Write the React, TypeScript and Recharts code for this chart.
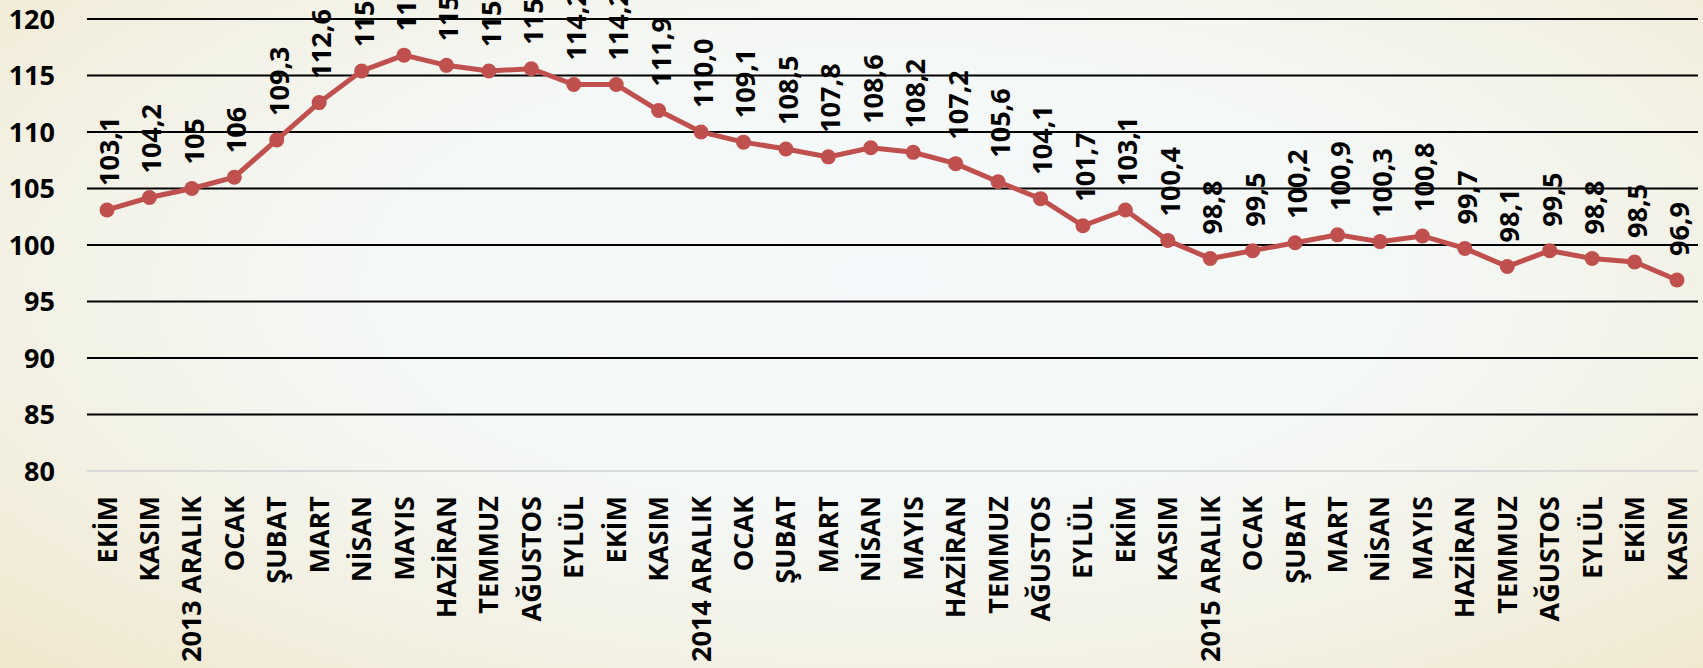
import React from "react";
import { LineChart, Line, XAxis, YAxis, CartesianGrid } from "recharts";

const months = [
  "EKİM", "KASIM", "2013 ARALIK", "OCAK", "ŞUBAT", "MART", "NİSAN", "MAYIS", "HAZİRAN", "TEMMUZ",
  "AĞUSTOS", "EYLÜL", "EKİM", "KASIM", "2014 ARALIK", "OCAK", "ŞUBAT", "MART", "NİSAN", "MAYIS",
  "HAZİRAN", "TEMMUZ", "AĞUSTOS", "EYLÜL", "EKİM", "KASIM", "2015 ARALIK", "OCAK", "ŞUBAT", "MART",
  "NİSAN", "MAYIS", "HAZİRAN", "TEMMUZ", "AĞUSTOS", "EYLÜL", "EKİM", "KASIM",
];

const values = [
  103.1, 104.2, 105, 106, 109.3, 112.6, 115.4, 116.8, 115.9, 115.4,
  115.6, 114.2, 114.2, 111.9, 110.0, 109.1, 108.5, 107.8, 108.6, 108.2,
  107.2, 105.6, 104.1, 101.7, 103.1, 100.4, 98.8, 99.5, 100.2, 100.9,
  100.3, 100.8, 99.7, 98.1, 99.5, 98.8, 98.5, 96.9,
];

const valueLabels = [
  "103,1", "104,2", "105", "106", "109,3", "112,6", "115,4", "116,8", "115,9", "115,4",
  "115,6", "114,2", "114,2", "111,9", "110,0", "109,1", "108,5", "107,8", "108,6", "108,2",
  "107,2", "105,6", "104,1", "101,7", "103,1", "100,4", "98,8", "99,5", "100,2", "100,9",
  "100,3", "100,8", "99,7", "98,1", "99,5", "98,8", "98,5", "96,9",
];

const yTicks = [80, 85, 90, 95, 100, 105, 110, 115, 120];
const gridValues = [85, 90, 95, 100, 105, 110, 115, 120];

const data = months.map((m, i) => ({ idx: i, month: m, value: values[i] }));

const FONT = '"Open Sans", "Noto Sans", sans-serif';
const RED = "#C0504D";

function MonthTick(props: any) {
  const { x, y, payload } = props;
  const bx = x + 9.5;
  const by = y + 23;
  return (
    <text
      x={bx}
      y={by}
      transform={`rotate(-90, ${bx}, ${by})`}
      textAnchor="end"
      fontFamily={FONT}
      fontWeight={700}
      fontSize={27}
      fill="#000"
    >
      {months[Number(payload.value)]}
    </text>
  );
}

// dot + rotated value label drawn together
function PointWithLabel(props: any) {
  const { cx, cy, index } = props;
  if (cx == null || cy == null) return null;
  const bx = cx + 12;
  const by = cy - 24;
  return (
    <g key={`pt-${index}`}>
      <circle cx={cx} cy={cy} r={7.5} fill={RED} stroke="none" />
      <text
        x={bx}
        y={by}
        transform={`rotate(-90, ${bx}, ${by})`}
        textAnchor="start"
        fontFamily={FONT}
        fontWeight={700}
        fontSize={27}
        fill="#000"
      >
        {valueLabels[index]}
      </text>
    </g>
  );
}

export default function App() {
  return (
    <div
      style={{
        position: "absolute",
        left: 0,
        top: 0,
        width: 1703,
        height: 668,
        background:
          "radial-gradient(ellipse 75% 85% at 52% 42%, #F5F9FB 0%, #F4F8F6 40%, #F3F0E2 72%, #F0E6CB 100%)",
      }}
    >
      <LineChart
        width={1703}
        height={668}
        data={data}
        margin={{ top: 19, right: 5, bottom: 0, left: 0 }}
      >
        <CartesianGrid
          vertical={false}
          horizontalValues={gridValues}
          stroke="#000"
          strokeWidth={2}
        />
        <XAxis
          dataKey="idx"
          type="category"
          interval={0}
          height={197}
          padding={{ left: 20, right: 21 }}
          axisLine={{ stroke: "#D9D9D9", strokeWidth: 2 }}
          tickLine={false}
          tickSize={0}
          tick={<MonthTick />}
        />
        <YAxis
          domain={[80, 120]}
          ticks={yTicks}
          width={87}
          axisLine={false}
          tickLine={false}
          tickSize={0}
          tickMargin={32}
          tick={{ fontFamily: FONT, fontWeight: 700, fontSize: 27, fill: "#000" }}
        />
        <Line
          type="linear"
          dataKey="value"
          stroke={RED}
          strokeWidth={5}
          dot={<PointWithLabel />}
          activeDot={false}
          isAnimationActive={false}
        />
      </LineChart>
    </div>
  );
}
